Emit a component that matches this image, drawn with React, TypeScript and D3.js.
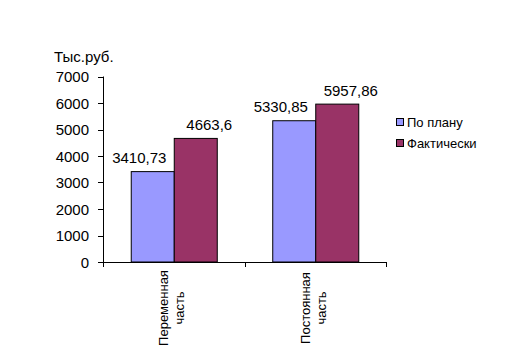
import React from "react";
import * as d3 from "d3";

const categories = ["Переменная часть", "Постоянная часть"];
const categoryLines = [["Переменная", "часть"], ["Постоянная", "часть"]];
const seriesNames = ["По плану", "Фактически"];
const planValues = [3410.73, 5330.85];
const factValues = [4663.6, 5957.86];
const valueLabels = [["3410,73", "4663,6"], ["5330,85", "5957,86"]];
const yTicks = [0, 1000, 2000, 3000, 4000, 5000, 6000, 7000];
const colors = ["#9999FF", "#993366"];
const unitLabel = "Тыс.руб.";

const FONT = "'Liberation Sans', Arial, sans-serif";

export default function App() {
  const W = 529, H = 357;
  const left = 103, right = 386, top = 76.5, bottom = 262;
  const y = d3.scaleLinear().domain([0, 7000]).range([bottom, top]);
  const x = d3.scaleBand<string>().domain(categories).range([left, right]).padding(0);
  const xs = d3.scaleBand<string>().domain(seriesNames).range([0, x.bandwidth()]).paddingInner(0).paddingOuter(0.645);
  const series = [planValues, factValues];
  const labelShift = [-13, 14];
  const labelDy = [-9, -8];

  return (
    <svg width={W} height={H} style={{ position: "absolute", left: 0, top: 0, background: "#fff" }} fontFamily={FONT}>
      <rect x={0} y={0} width={W} height={H} fill="#fff" />
      <text x={54} y={62} fontSize={15} fill="#000">{unitLabel}</text>
      {yTicks.map((t) => (
        <g key={t}>
          <line x1={98} x2={left} y1={Math.round(y(t)) + 0.5} y2={Math.round(y(t)) + 0.5} stroke="#000" />
          <text x={89} y={y(t) + 5.5} fontSize={15} textAnchor="end" fill="#000">{t}</text>
        </g>
      ))}
      {categories.map((c, ci) =>
        series.map((vals, si) => {
          const bx = (x(c) as number) + (xs(seriesNames[si]) as number);
          const bw = xs.bandwidth();
          const yt = y(vals[ci]);
          return (
            <g key={c + si}>
              <rect x={bx + 0.5} y={yt} width={bw} height={bottom - yt} fill={colors[si]} stroke="#000" strokeWidth={1} />
              <text x={bx + bw / 2 + labelShift[si]} y={yt + labelDy[si]} fontSize={15} textAnchor="middle" fill="#000">
                {valueLabels[ci][si]}
              </text>
            </g>
          );
        })
      )}
      <line x1={left + 0.5} x2={left + 0.5} y1={top} y2={bottom} stroke="#000" />
      <line x1={left} x2={right + 0.5} y1={bottom + 0.5} y2={bottom + 0.5} stroke="#000" />
      {[...categories.map((c) => x(c) as number), right].map((tx, i) => (
        <line key={i} x1={Math.round(tx) + 0.5} x2={Math.round(tx) + 0.5} y1={bottom} y2={bottom + 5} stroke="#000" />
      ))}
      {categories.map((c, ci) => {
        const cx = (x(c) as number) + x.bandwidth() / 2;
        return (
          <text key={c} transform={`translate(${cx},308) rotate(-90)`} fontSize={13} textAnchor="middle" fill="#000">
            <tspan x={0} y={-5.5}>{categoryLines[ci][0]}</tspan>
            <tspan x={0} y={10.5}>{categoryLines[ci][1]}</tspan>
          </text>
        );
      })}
      {seriesNames.map((s, i) => (
        <g key={s}>
          <rect x={396.5} y={118.5 + i * 21} width={7} height={7} fill={colors[i]} stroke="#000" />
          <text x={407} y={127 + i * 21} fontSize={13} fill="#000">{s}</text>
        </g>
      ))}
    </svg>
  );
}
